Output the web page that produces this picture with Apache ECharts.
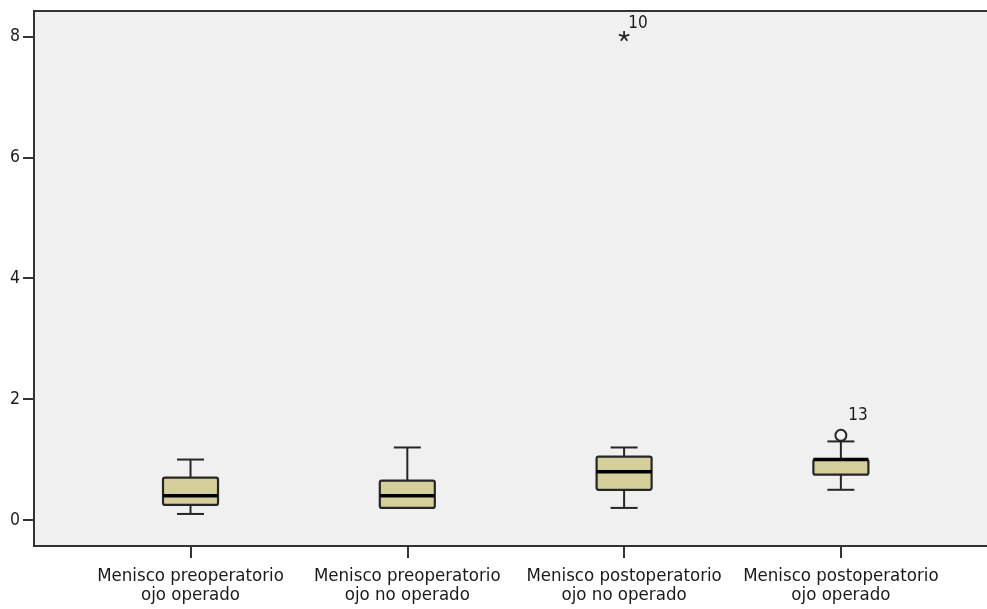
<!DOCTYPE html>
<html>
<head>
<meta charset="utf-8">
<title>Menisco</title>
<script src="https://cdn.jsdelivr.net/npm/echarts@6/dist/echarts.min.js"></script>
<style>
  html, body { margin: 0; padding: 0; background: #ffffff; }
  #chart { width: 987px; height: 609px; }
</style>
</head>
<body>
<div id="chart"></div>
<script>
// Group names (one box per group)
const categories = [
  'Menisco preoperatorio\nojo operado',
  'Menisco preoperatorio\nojo no operado',
  'Menisco postoperatorio\nojo no operado',
  'Menisco postoperatorio\nojo operado'
];
// Box summaries per group
const whiskerLow  = [0.1, 0.2, 0.2, 0.5];
const quartile1   = [0.25, 0.2, 0.5, 0.75];
const medians     = [0.4, 0.4, 0.8, 1.0];
const quartile3   = [0.7, 0.65, 1.05, 1.0];
const whiskerHigh = [1.0, 1.2, 1.2, 1.3];
// Extreme values (*) and outliers (o) with case numbers
const extremeGroup = [3];
const extremeValue = [8.0];
const extremeCase  = ['10'];
const outlierGroup = [4];
const outlierValue = [1.4];
const outlierCase  = ['13'];
// Axis ticks
const yTicks = [0, 2, 4, 6, 8];
const xTicks = [1, 2, 3, 4];

const FONT = "'DejaVu Sans Condensed', 'DejaVu Sans', sans-serif";
const DARK = '#262626';
const AXIS = '#333333';

const boxData = categories.map((c, i) => [i + 1, whiskerLow[i], quartile1[i], medians[i], quartile3[i], whiskerHigh[i]]);
const extremeData = extremeGroup.map((g, i) => [g, extremeValue[i], extremeCase[i]]);
const outlierData = outlierGroup.map((g, i) => [g, outlierValue[i], outlierCase[i]]);

function renderBox(params, api) {
  const x = api.value(0);
  const pLow = api.coord([x, api.value(1)]);
  const pQ1 = api.coord([x, api.value(2)]);
  const pMed = api.coord([x, api.value(3)]);
  const pQ3 = api.coord([x, api.value(4)]);
  const pHigh = api.coord([x, api.value(5)]);
  const cx = pMed[0];
  const hb = 27.5, hc = 13.5;
  const lineStyle = { stroke: DARK, lineWidth: 2 };
  return {
    type: 'group',
    children: [
      { type: 'line', shape: { x1: cx, y1: pQ3[1], x2: cx, y2: pHigh[1] }, style: lineStyle },
      { type: 'line', shape: { x1: cx, y1: pQ1[1], x2: cx, y2: pLow[1] }, style: lineStyle },
      { type: 'line', shape: { x1: cx - hc, y1: pHigh[1], x2: cx + hc, y2: pHigh[1] }, style: lineStyle },
      { type: 'line', shape: { x1: cx - hc, y1: pLow[1], x2: cx + hc, y2: pLow[1] }, style: lineStyle },
      { type: 'rect', shape: { x: cx - hb, y: pQ3[1], width: hb * 2, height: pQ1[1] - pQ3[1], r: 2 },
        style: { fill: '#d5d09b', stroke: DARK, lineWidth: 2.2 } },
      { type: 'line', shape: { x1: cx - hb, y1: pMed[1], x2: cx + hb, y2: pMed[1] },
        style: { stroke: '#000000', lineWidth: 3.5 } }
    ]
  };
}

function renderExtreme(params, api) {
  const p = api.coord([api.value(0), api.value(1)]);
  const r = 5.5;
  const s = { stroke: DARK, lineWidth: 1.8 };
  const kids = [];
  for (let k = 0; k < 5; k++) {
    const a = -Math.PI / 2 + k * 2 * Math.PI / 5;
    kids.push({ type: 'line', shape: { x1: p[0], y1: p[1], x2: p[0] + r * Math.cos(a), y2: p[1] + r * Math.sin(a) }, style: s });
  }
  kids.push({ type: 'text', x: p[0] + 14, y: p[1] - 13,
    style: { text: api.value(2), fill: '#1a1a1a', font: '17px ' + FONT, align: 'center', verticalAlign: 'middle' } });
  return { type: 'group', children: kids };
}

function renderOutlier(params, api) {
  const p = api.coord([api.value(0), api.value(1)]);
  return {
    type: 'group',
    children: [
      { type: 'circle', shape: { cx: p[0], cy: p[1], r: 5.5 }, style: { fill: '#f4f4f4', stroke: DARK, lineWidth: 2 } },
      { type: 'text', x: p[0] + 17, y: p[1] - 20,
        style: { text: api.value(2), fill: '#1a1a1a', font: '17px ' + FONT, align: 'center', verticalAlign: 'middle' } }
    ]
  };
}

const chart = echarts.init(document.getElementById('chart'), null, { renderer: 'canvas' });
chart.setOption({
  backgroundColor: '#ffffff',
  animation: false,
  grid: {
    left: 34, right: 0, top: 11, bottom: 63,
    show: true, backgroundColor: '#f0f0f0', borderWidth: 0
  },
  xAxis: [{
    type: 'value', min: 0.278, max: 4.674, position: 'bottom',
    axisLine: { show: true, onZero: false, lineStyle: { color: AXIS, width: 2 } },
    splitLine: { show: false },
    axisTick: { show: true, customValues: xTicks, length: 12, lineStyle: { color: AXIS, width: 2 } },
    axisLabel: {
      customValues: xTicks, margin: 21, color: '#1a1a1a', fontSize: 18.5, lineHeight: 18.5,
      fontFamily: FONT,
      formatter: v => categories[Math.round(v) - 1] || ''
    }
  }, {
    type: 'value', min: 0.278, max: 4.674, position: 'top',
    axisLine: { show: true, onZero: false, lineStyle: { color: AXIS, width: 2 } },
    splitLine: { show: false }, axisTick: { show: false }, axisLabel: { show: false }
  }],
  yAxis: {
    type: 'value', min: -0.43, max: 8.42,
    axisLine: { show: true, onZero: false, lineStyle: { color: AXIS, width: 2 } },
    splitLine: { show: false },
    axisTick: { show: true, customValues: yTicks, length: 11, lineStyle: { color: AXIS, width: 2 } },
    axisLabel: { customValues: yTicks, margin: 14, color: '#1a1a1a', fontSize: 17.5, fontFamily: FONT }
  },
  series: [
    { type: 'custom', renderItem: renderBox, data: boxData, encode: { x: 0, y: [1, 2, 3, 4, 5] }, z: 3 },
    { type: 'custom', renderItem: renderExtreme, data: extremeData, encode: { x: 0, y: 1 }, z: 4 },
    { type: 'custom', renderItem: renderOutlier, data: outlierData, encode: { x: 0, y: 1 }, z: 4 }
  ]
});
</script>
</body>
</html>
